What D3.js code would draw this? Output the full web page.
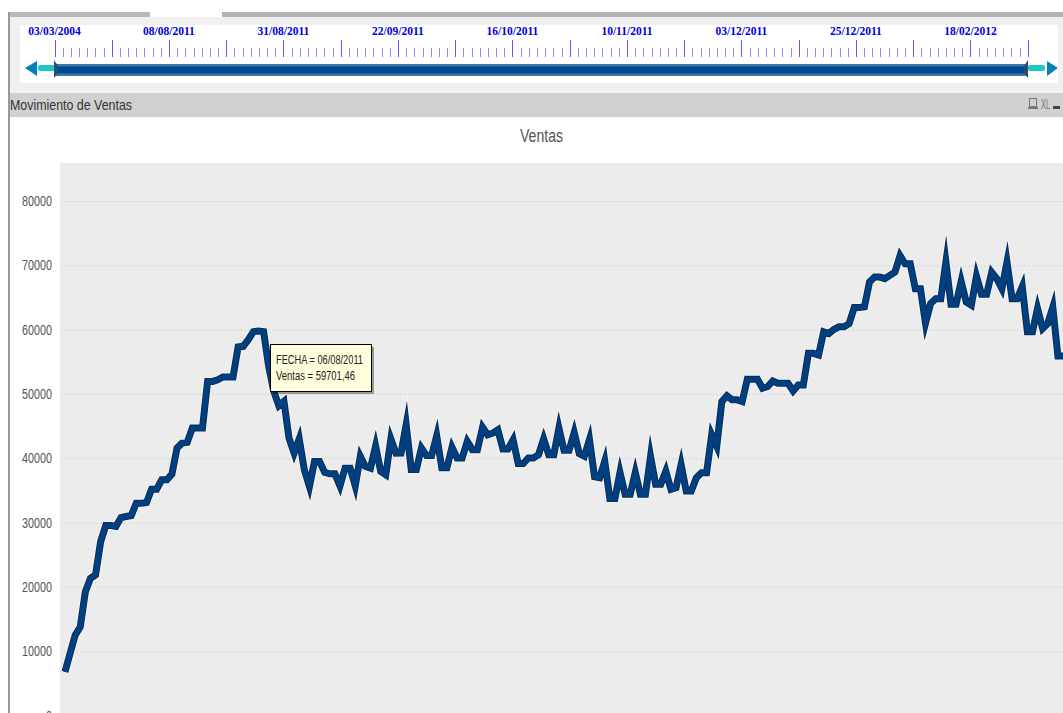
<!DOCTYPE html>
<html>
<head>
<meta charset="utf-8">
<script src="https://cdn.jsdelivr.net/npm/d3@7"></script>
<style>
  body { margin: 0; background: #fff; overflow: hidden; }
  svg { display: block; }
  text { font-family: "Liberation Sans", sans-serif; }
</style>
</head>
<body>
<div id="chart-area"></div>
<script>
// Ventas, one value per day shown
var ventas = [
  6800, 9660, 12510, 13800, 19260, 21330, 21850, 27040, 29530, 29530,
  29400, 30780, 30940, 31090, 33010, 33010, 33100, 35190, 35190, 36640,
  36640, 37530, 41580, 42350, 42460, 44690, 44690, 44690, 51950, 51950,
  52200, 52630, 52630, 52630, 57300, 57400, 58440, 59690, 59800, 59701,
  54290, 50400, 48170, 48840, 43130, 40800, 43000, 38200, 35600, 39500,
  39500, 37800, 37580, 37580, 35700, 38460, 38460, 35700, 40300, 38720,
  38460, 41900, 37940, 37420, 43000, 40800, 40820, 45200, 38260, 38260,
  41590, 40410, 40410, 43500, 38510, 38510, 41700, 40050, 40050, 42620,
  41330, 41330, 44800, 43640, 43900, 44410, 41440, 41440, 42870, 39180,
  39180, 40050, 40050, 40560, 43000, 40560, 40560, 44700, 41230, 41230,
  44000, 40720, 40310, 42900, 37130, 36970, 39540, 33740, 33740, 37800,
  34400, 34400, 37800, 34400, 34400, 40300, 35950, 35950, 37990, 35150,
  35400, 39000, 34890, 34890, 36960, 37730, 37730, 43660, 41860, 48820,
  49700, 49080, 49080, 48820, 52280, 52280, 52280, 50890, 51150, 52020,
  51660, 51660, 51660, 50470, 51400, 51400, 56310, 56310, 56050, 59660,
  59400, 60020, 60430, 60430, 60950, 63430, 63430, 63530, 67400, 68170,
  68170, 67920, 68430, 68950, 71500, 70240, 70240, 66370, 66370, 61000,
  64050, 64820, 64820, 70500, 63940, 63940, 67500, 64300, 63790, 68300,
  65490, 65490, 68900, 67920, 66370, 70500, 64820, 64820, 66700, 59660,
  59660, 63300, 60180, 60950, 63500, 55890, 55890
];
var yTicks = [0, 10000, 20000, 30000, 40000, 50000, 60000, 70000, 80000];
var sliderFechas = ["03/03/2004", "08/08/2011", "31/08/2011", "22/09/2011", "16/10/2011",
  "10/11/2011", "03/12/2011", "25/12/2011", "18/02/2012"];
var sliderMarks = d3.range(0, 120);
var tooltipLines = ["FECHA = 06/08/2011", "Ventas = 59701,46"];
var tooltipWidths = [87, 79];

var svg = d3.select("#chart-area").append("svg")
    .attr("width", 1063)
    .attr("height", 713);

// page chrome
svg.append("rect").attr("x", 8).attr("y", 12).attr("width", 142).attr("height", 5).attr("fill", "#b8b8b8");
svg.append("rect").attr("x", 222).attr("y", 12).attr("width", 841).attr("height", 5).attr("fill", "#b0b4b6");
svg.append("rect").attr("x", 8).attr("y", 17).attr("width", 1055).attr("height", 76).attr("fill", "#f0f0f0");
svg.append("rect").attr("x", 20).attr("y", 25).attr("width", 1038).attr("height", 58).attr("rx", 2).attr("fill", "#fff");
svg.append("rect").attr("x", 8).attr("y", 93).attr("width", 1055).attr("height", 24).attr("fill", "#d0d0d0");
svg.append("rect").attr("x", 8).attr("y", 12).attr("width", 2).attr("height", 701).attr("fill", "#999");

svg.append("text")
    .attr("x", 10).attr("y", 110)
    .attr("font-size", 14.5)
    .attr("fill", "#333")
    .attr("textLength", 122)
    .attr("lengthAdjust", "spacingAndGlyphs")
    .text("Movimiento de Ventas");

// panel icons
svg.append("rect").attr("x", 1029.5).attr("y", 98.5).attr("width", 7).attr("height", 8).attr("fill", "none").attr("stroke", "#777");
svg.append("rect").attr("x", 1028).attr("y", 107).attr("width", 10).attr("height", 2).attr("fill", "#777");
svg.append("text").attr("x", 1041).attr("y", 109).attr("font-size", 14).attr("fill", "#777")
    .attr("textLength", 9).attr("lengthAdjust", "spacingAndGlyphs").text("XL");
svg.append("rect").attr("x", 1053).attr("y", 106).attr("width", 7).attr("height", 3).attr("fill", "#444");

// time slider
var sx = d3.scaleLinear().domain([0, 119]).range([54.5, 1027.7]);

svg.selectAll(".mark")
    .data(sliderMarks)
    .enter()
    .append("line")
    .attr("class", "mark")
    .attr("x1", d => Math.round(sx(d)) + 0.5)
    .attr("x2", d => Math.round(sx(d)) + 0.5)
    .attr("y1", d => d % 7 == 0 ? 40 : 48)
    .attr("y2", 57)
    .attr("stroke", d => d % 7 == 0 ? "#5a5aff" : "#8a8aff");

svg.selectAll(".fecha")
    .data(sliderFechas)
    .enter()
    .append("text")
    .attr("class", "fecha")
    .attr("x", (d, i) => sx(i * 14))
    .attr("y", 35)
    .attr("text-anchor", "middle")
    .attr("font-size", 11.5)
    .attr("font-weight", "bold")
    .attr("fill", "#0000e0")
    .style("font-family", "'Liberation Serif', serif")
    .text(d => d);

svg.append("rect").attr("x", 55).attr("y", 64).attr("width", 973).attr("height", 12).attr("fill", "#3f78a8");
svg.append("rect").attr("x", 55).attr("y", 66.5).attr("width", 973).attr("height", 7).attr("fill", "#004a8f");
svg.append("rect").attr("x", 38).attr("y", 65).attr("width", 17).attr("height", 6).attr("rx", 2).attr("fill", "#1fc8c8");
svg.append("rect").attr("x", 1028).attr("y", 65).attr("width", 17).attr("height", 6).attr("rx", 2).attr("fill", "#1fc8c8");
svg.append("path").attr("d", "M25,68L37,61V76Z").attr("fill", "#0a7fb5");
svg.append("path").attr("d", "M1058,68L1047,61V76Z").attr("fill", "#0a7fb5");
svg.append("path").attr("d", "M54,60L58,66V73L54,78Z").attr("fill", "#24506f");
svg.append("path").attr("d", "M1028,60L1024,66V73L1028,78Z").attr("fill", "#24506f");

// chart
svg.append("text")
    .attr("x", 520).attr("y", 142)
    .attr("font-size", 18)
    .attr("fill", "#555")
    .attr("textLength", 43)
    .attr("lengthAdjust", "spacingAndGlyphs")
    .text("Ventas");

svg.append("rect").attr("x", 60).attr("y", 163).attr("width", 1003).attr("height", 550).attr("fill", "#ececec");

var x = d3.scaleLinear()
    .domain([0, ventas.length - 1])
    .range([65, 1063]);

var y = d3.scaleLinear()
    .domain([0, 80000])
    .range([715.5, 201]);

var yAxis = d3.axisLeft(y)
    .tickValues(yTicks)
    .tickFormat(d3.format("d"))
    .tickSize(0)
    .tickPadding(8);

var yg = svg.append("g")
    .attr("transform", "translate(60,0)")
    .call(yAxis);
yg.select(".domain").remove();
yg.selectAll("text")
    .attr("font-size", 14.5)
    .attr("fill", "#555")
    .attr("textLength", d => String(d).length * 6)
    .attr("lengthAdjust", "spacingAndGlyphs")
    .style("font-family", "'Liberation Sans', sans-serif");
yg.selectAll(".tick").append("line")
    .attr("x1", 0)
    .attr("x2", 1003)
    .attr("stroke", "#d6d6d6")
    .attr("stroke-dasharray", "2,2");

var line = d3.line()
    .x((d, i) => x(i))
    .y(d => y(d));

// white halo, dark edge, then the blue core
var widths = [[8.5, "#ffffff", 0.6], [7, "#0b2d55", 1], [5, "#004080", 1]];
widths.forEach((w) => {
    svg.append("path")
        .datum(ventas)
        .attr("d", line)
        .attr("fill", "none")
        .attr("stroke", w[1])
        .attr("stroke-opacity", w[2])
        .attr("stroke-width", w[0])
        .attr("stroke-linejoin", "miter")
        .attr("stroke-miterlimit", 10);
});

// tooltip
svg.append("rect").attr("x", 273).attr("y", 347).attr("width", 101).attr("height", 47).attr("fill", "#000").attr("opacity", 0.35);
svg.append("rect").attr("x", 270.5).attr("y", 344.5).attr("width", 101).attr("height", 47)
    .attr("fill", "#ffffdd").attr("stroke", "#000");
svg.selectAll(".tip")
    .data(tooltipLines)
    .enter()
    .append("text")
    .attr("class", "tip")
    .attr("x", 276)
    .attr("y", (d, i) => 364 + i * 16)
    .attr("font-size", 13)
    .attr("fill", "#222")
    .attr("textLength", (d, i) => tooltipWidths[i])
    .attr("lengthAdjust", "spacingAndGlyphs")
    .text(d => d);
</script>
</body>
</html>
